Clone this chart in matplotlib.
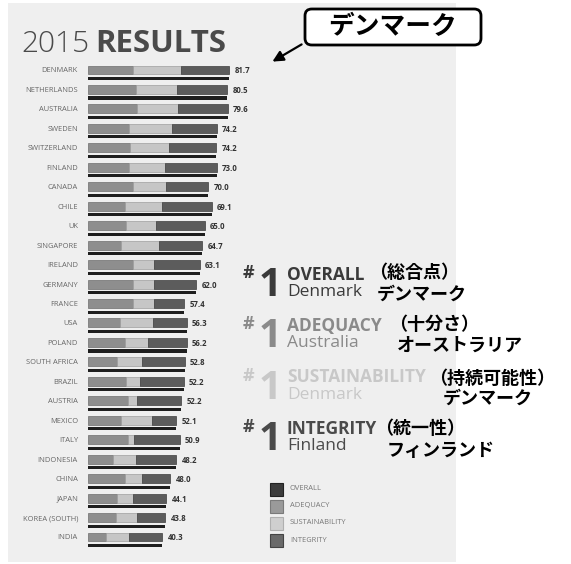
import matplotlib.pyplot as plt
from matplotlib.patches import Rectangle, FancyBboxPatch, FancyArrowPatch

countries = ['DENMARK', 'NETHERLANDS', 'AUSTRALIA', 'SWEDEN', 'SWITZERLAND', 'FINLAND',
             'CANADA', 'CHILE', 'UK', 'SINGAPORE', 'IRELAND', 'GERMANY', 'FRANCE', 'USA',
             'POLAND', 'SOUTH AFRICA', 'BRAZIL', 'AUSTRIA', 'MEXICO', 'ITALY', 'INDONESIA',
             'CHINA', 'JAPAN', 'KOREA (SOUTH)', 'INDIA']
overall_labels = ['81.7', '80.5', '79.6', '74.2', '74.2', '73.0', '70.0', '69.1', '65.0',
                  '64.7', '63.1', '62.0', '57.4', '56.3', '56.2', '52.8', '52.2', '52.2',
                  '52.1', '50.9', '48.2', '48.0', '44.1', '43.8', '40.3']
# segment lengths as drawn in the infographic
adequacy = [26.4, 27.6, 28.2, 23.6, 24.7, 23.6, 26.4, 21.3, 22.4, 19.5, 25.9, 25.9, 25.9,
            18.4, 21.3, 16.7, 22.4, 23.0, 19.5, 23.0, 14.9, 21.3, 16.7, 16.1, 10.9]
sustainability = [27.6, 24.1, 23.6, 24.7, 22.4, 20.7, 19.0, 21.8, 16.7, 21.8, 12.6, 12.6, 12.6,
                  19.0, 13.2, 14.4, 7.5, 5.7, 17.8, 4.0, 13.2, 10.3, 9.2, 12.6, 13.2]
integrity = [27.6, 28.7, 28.7, 25.9, 27.0, 29.9, 24.1, 28.2, 28.2, 24.7, 25.9, 24.1, 17.2,
             19.5, 22.4, 24.7, 25.3, 25.3, 13.8, 25.9, 23.0, 16.1, 19.5, 16.1, 19.0]

legend_labels = ['OVERALL', 'ADEQUACY', 'SUSTAINABILITY', 'INTEGRITY']
winners = [('OVERALL', 'Denmark', '（総合点）', 'デンマーク'),
           ('ADEQUACY', 'Australia', '（十分さ）', 'オーストラリア'),
           ('SUSTAINABILITY', 'Denmark', '（持続可能性）', 'デンマーク'),
           ('INTEGRITY', 'Finland', '（統一性）', 'フィンランド')]

W, H = 571, 564
c_ade, c_sus, c_int, c_all = '#8e8e8e', '#c6c6c6', '#5c5c5c', '#1e1e1e'
latin = 'Open Sans'
jp = ['Noto Sans CJK JP', 'DejaVu Sans']


def px(x, y):
    return x / W, 1 - y / H


fig = plt.figure(figsize=(W / 100, H / 100), dpi=100, facecolor='white')

# gray panel
fig.patches.append(Rectangle(px(8, 562), 448 / W, 559 / H, transform=fig.transFigure,
                             facecolor='#efefef', edgecolor='none', zorder=-1))

# title
fig.text(*px(21, 52), '2015', fontsize=21.5, family=latin, weight='light', color='#4a4a4a')
fig.text(*px(95, 52), 'RESULTS', fontsize=22.5, family=latin, weight='bold', color='#4a4a4a')

# bars
scale = 1.74
ax = fig.add_axes([87.5 / W, 1 - 550 / H, 172.5 / W, 490 / H], zorder=1)
ax.set_facecolor('none')
ax.set_xlim(0, 172.5 / scale)
ax.set_ylim(24.668, -0.514)
ax.axis('off')

y = list(range(len(countries)))
totals = [a + s + i for a, s, i in zip(adequacy, sustainability, integrity)]
left2 = [a + s for a, s in zip(adequacy, sustainability)]
ax.barh(y, adequacy, height=0.46, color=c_ade, edgecolor='#6e6e6e', linewidth=0.5)
ax.barh(y, sustainability, left=adequacy, height=0.46, color=c_sus, edgecolor='#9e9e9e', linewidth=0.5)
ax.barh(y, integrity, left=left2, height=0.46, color=c_int, edgecolor='#3e3e3e', linewidth=0.5)
ax.barh([v + 0.44 for v in y], totals, height=0.16, color=c_all)

for i, name in enumerate(countries):
    ax.text(-5.5, i + 0.05, name, ha='right', va='center', fontsize=5.4, family=latin,
            color='#666666')
    ax.text(totals[i] + 2.9, i + 0.05, overall_labels[i], ha='left', va='center', fontsize=5.6,
            family=latin, weight='bold', color='#333333')

# #1 winners
grp_colors = ['#3a3a3a', '#8a8a8a', '#c8c8c8', '#4a4a4a']
tops = [267, 318, 370, 421]
jp_pos = [(369, 272, 377, 294), (389, 325, 397, 345), (429, 378, 443, 398), (375, 429, 387, 450)]
for k, (cat, ctry, jp1, jp2) in enumerate(winners):
    t = tops[k]
    col = grp_colors[k]
    fig.text(*px(243, t + 11), '#', fontsize=13, family=latin, weight='bold', color=col)
    fig.text(*px(259, t + 29), '1', fontsize=29, family=latin, weight='bold', color=col)
    fig.text(*px(287, t + 12.5), cat, fontsize=12.5, family=latin, weight='bold', color=col)
    fig.text(*px(287, t + 29), ctry, fontsize=12.5, family=latin, color=col)
    x1, y1, x2, y2 = jp_pos[k]
    fig.text(*px(x1, y1), jp1, fontsize=13, family=jp, weight='bold', color='black', va='center')
    fig.text(*px(x2, y2), jp2, fontsize=13, family=jp, weight='bold', color='black', va='center')

# legend
leg_colors = ['#3c3c3c', '#9a9a9a', '#cfcfcf', '#6a6a6a']
leg_edges = ['#222222', '#7a7a7a', '#b0b0b0', '#444444']
for k, lab in enumerate(legend_labels):
    yc = 489 + k * 17
    fig.patches.append(Rectangle(px(270, yc + 6.5), 13 / W, 13 / H, transform=fig.transFigure,
                                 facecolor=leg_colors[k], edgecolor=leg_edges[k], linewidth=0.8))
    fig.text(*px(290, yc), lab, fontsize=5.4, family=latin, color='#777777', va='center')

# callout
box = FancyBboxPatch(px(305, 45), 176 / W, 36 / H, transform=fig.transFigure,
                     boxstyle='round,pad=0,rounding_size=0.012', facecolor='white',
                     edgecolor='black', linewidth=2)
fig.patches.append(box)
fig.text(*px(393, 27), 'デンマーク', fontsize=18.5, family=jp, weight='bold', ha='center',
         va='center', color='black')
fig.add_artist(FancyArrowPatch(px(304, 43), px(270, 63), transform=fig.transFigure,
                               arrowstyle='-|>', mutation_scale=16, color='black',
                               linewidth=1.6))

fig.savefig('out.png', dpi=100)
